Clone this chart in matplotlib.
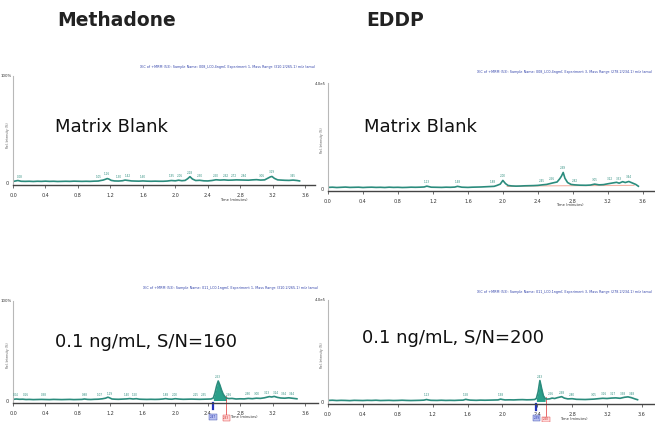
import numpy as np
import matplotlib.pyplot as plt

# chromatogram traces, time in minutes, intensity in % of full scale
mb_t = [0.02, 0.06, 0.10, 0.15, 0.20, 0.25, 0.30, 0.35, 0.40, 0.45, 0.50, 0.55, 0.60, 0.65, 0.70, 0.75,
        0.80, 0.85, 0.90, 0.95, 1.00, 1.05, 1.08, 1.11, 1.14, 1.16, 1.18, 1.21, 1.25, 1.30, 1.35, 1.38,
        1.42, 1.46, 1.50, 1.55, 1.60, 1.65, 1.70, 1.75, 1.80, 1.85, 1.90, 1.95, 2.00, 2.04, 2.08, 2.12,
        2.15, 2.18, 2.21, 2.25, 2.30, 2.35, 2.40, 2.45, 2.50, 2.55, 2.60, 2.65, 2.70, 2.75, 2.80, 2.85,
        2.90, 2.95, 3.00, 3.05, 3.10, 3.14, 3.17, 3.19, 3.22, 3.26, 3.30, 3.35, 3.40, 3.45, 3.50, 3.53]
mb_y = [1.6, 2.2, 1.5, 1.4, 1.5, 1.3, 1.5, 1.4, 1.6, 1.4, 1.5, 1.3, 1.4, 1.5, 1.4, 1.6,
        1.5, 1.4, 1.5, 1.4, 1.6, 1.7, 2.2, 2.6, 3.4, 4.0, 3.6, 2.3, 1.8, 1.7, 2.0, 2.6,
        2.2, 1.8, 1.7, 1.6, 1.8, 1.6, 1.5, 1.6, 1.5, 1.5, 1.7, 2.2, 1.9, 2.5, 2.0, 2.3,
        3.8, 5.8, 3.6, 2.2, 2.4, 1.9, 1.8, 2.2, 2.9, 2.6, 2.8, 2.5, 2.6, 2.8, 2.7, 2.6,
        2.5, 2.8, 3.0, 2.6, 2.8, 4.4, 5.6, 6.0, 4.2, 2.8, 2.6, 2.4, 2.3, 2.6, 2.2, 1.8]
mb_labels = [0.08, 1.05, 1.16, 1.30, 1.42, 1.60, 1.95, 2.06, 2.18, 2.30, 2.50, 2.62, 2.72, 2.84,
             3.06, 3.19, 3.45]

eb_t = [0.00, 0.05, 0.10, 0.15, 0.20, 0.25, 0.30, 0.35, 0.40, 0.45, 0.50, 0.55, 0.60, 0.65, 0.70, 0.75,
        0.80, 0.85, 0.90, 0.95, 1.00, 1.05, 1.10, 1.13, 1.15, 1.18, 1.25, 1.30, 1.35, 1.40, 1.45, 1.48,
        1.50, 1.53, 1.60, 1.65, 1.70, 1.75, 1.80, 1.85, 1.90, 1.93, 1.97, 2.00, 2.03, 2.06, 2.10, 2.15,
        2.20, 2.25, 2.30, 2.35, 2.40, 2.45, 2.50, 2.54, 2.58, 2.62, 2.65, 2.67, 2.69, 2.71, 2.74, 2.78,
        2.82, 2.88, 2.95, 3.00, 3.05, 3.10, 3.15, 3.20, 3.25, 3.30, 3.33, 3.37, 3.40, 3.44, 3.48, 3.52, 3.55]
eb_y = [1.4, 1.6, 1.3, 1.5, 1.7, 1.4, 1.5, 1.6, 1.3, 1.5, 1.6, 1.4, 1.5, 1.3, 1.6, 1.4,
        1.5, 1.3, 1.4, 1.6, 1.5, 1.6, 1.8, 2.6, 2.2, 1.6, 1.5, 1.4, 1.6, 1.5, 1.7, 2.4,
        2.1, 1.6, 1.4, 1.6, 1.7, 1.8, 2.0, 2.2, 2.4, 3.2, 4.5, 8.0, 5.0, 3.2, 2.8, 2.6,
        2.7, 2.9, 3.0, 3.1, 3.3, 3.8, 4.2, 5.0, 5.8, 6.5, 9.5, 12.0, 15.5, 10.0, 6.0, 4.2,
        3.8, 3.5, 3.4, 3.6, 4.5, 3.8, 4.0, 4.8, 5.5, 6.2, 5.4, 6.8, 6.0, 7.0, 5.6, 4.2, 2.5]
eb_labels = [1.13, 1.48, 1.88, 2.00, 2.45, 2.56, 2.69, 2.82, 3.05, 3.22, 3.33, 3.44]
eb_bg_t = [2.05, 2.40, 2.70, 3.00, 3.50]
eb_bg_y = [2.3, 2.8, 3.0, 3.1, 3.3]

m1_t = [0.00, 0.04, 0.08, 0.12, 0.16, 0.20, 0.25, 0.30, 0.35, 0.40, 0.45, 0.50, 0.55, 0.60, 0.65, 0.70,
        0.75, 0.80, 0.85, 0.88, 0.92, 0.96, 1.00, 1.05, 1.10, 1.14, 1.17, 1.19, 1.22, 1.26, 1.30, 1.35,
        1.40, 1.44, 1.48, 1.52, 1.56, 1.60, 1.65, 1.70, 1.75, 1.80, 1.85, 1.88, 1.92, 1.96, 2.00, 2.05,
        2.10, 2.15, 2.20, 2.25, 2.30, 2.35, 2.40, 2.44, 2.47, 2.49, 2.51, 2.53, 2.55, 2.57, 2.59, 2.61,
        2.63, 2.66, 2.70, 2.75, 2.80, 2.85, 2.90, 2.95, 3.00, 3.05, 3.10, 3.13, 3.16, 3.19, 3.22, 3.26,
        3.30, 3.35, 3.40, 3.45, 3.50]
m1_y = [1.6, 2.0, 1.7, 1.8, 1.5, 1.6, 1.4, 1.5, 1.6, 1.5, 1.4, 1.6, 1.5, 1.4, 1.5, 1.6,
        1.4, 1.5, 1.6, 2.0, 1.6, 1.5, 1.7, 1.8, 2.2, 2.8, 3.8, 3.2, 2.0, 1.8, 1.7, 1.9,
        2.1, 2.4, 2.0, 2.3, 1.8, 1.7, 1.6, 1.7, 1.6, 1.7, 2.0, 2.4, 1.9, 1.8, 2.3, 1.9,
        1.7, 1.8, 1.9, 1.8, 1.7, 1.8, 1.9, 2.0, 3.0, 8.0, 15.0, 20.0, 16.0, 11.0, 7.0, 4.5,
        3.0, 2.4, 2.6, 2.0, 2.2, 2.1, 2.6, 2.3, 2.8, 2.6, 3.2, 3.8, 4.4, 4.0, 4.6, 3.6,
        3.0, 2.8, 3.2, 2.7, 2.2]
m1_labels = [0.04, 0.16, 0.38, 0.88, 1.07, 1.19, 1.40, 1.50, 1.88, 2.00, 2.25, 2.35, 2.53, 2.66,
             2.90, 3.00, 3.13, 3.24, 3.34, 3.44]
m1_peak = [2.47, 2.63]

e1_t = [0.00, 0.05, 0.10, 0.15, 0.20, 0.25, 0.30, 0.35, 0.40, 0.45, 0.50, 0.55, 0.60, 0.65, 0.70, 0.75,
        0.80, 0.85, 0.90, 0.95, 1.00, 1.05, 1.10, 1.13, 1.15, 1.18, 1.25, 1.30, 1.35, 1.40, 1.45, 1.50,
        1.55, 1.58, 1.60, 1.63, 1.70, 1.75, 1.80, 1.85, 1.90, 1.95, 1.98, 2.00, 2.03, 2.08, 2.13, 2.18,
        2.23, 2.28, 2.33, 2.37, 2.39, 2.41, 2.43, 2.45, 2.47, 2.49, 2.51, 2.54, 2.57, 2.60, 2.63, 2.66,
        2.68, 2.71, 2.75, 2.80, 2.85, 2.90, 2.95, 3.00, 3.05, 3.10, 3.15, 3.20, 3.25, 3.30, 3.35, 3.40,
        3.44, 3.48, 3.52, 3.55]
e1_y = [1.5, 1.7, 1.4, 1.6, 1.5, 1.3, 1.6, 1.5, 1.4, 1.6, 1.5, 1.7, 1.4, 1.5, 1.6, 1.4,
        1.5, 1.7, 1.5, 1.4, 1.5, 1.6, 1.8, 2.4, 2.0, 1.6, 1.5, 1.7, 1.5, 1.6, 1.5, 1.7,
        1.8, 2.6, 2.2, 1.8, 1.6, 1.8, 1.7, 1.8, 1.9, 2.0, 2.8, 2.4, 2.0, 2.1, 2.0, 2.2,
        2.3, 2.1, 2.2, 2.4, 3.5, 10.0, 21.0, 13.0, 6.0, 3.5, 2.8, 3.0, 3.8, 3.4, 4.2, 4.8,
        5.2, 3.8, 3.0, 3.2, 2.6, 2.5, 2.4, 2.6, 2.8, 3.2, 3.6, 3.4, 3.8, 4.0, 3.6, 4.6,
        5.0, 4.2, 3.0, 2.2]
e1_labels = [1.13, 1.58, 1.98, 2.43, 2.56, 2.68, 2.80, 3.05, 3.16, 3.27, 3.38, 3.48]
e1_peak = [2.39, 2.50]

ticks = [0.0, 0.4, 0.8, 1.2, 1.6, 2.0, 2.4, 2.8, 3.2, 3.6]
teal = '#2b8c7d'
W, H = 655, 422

fig = plt.figure(figsize=(6.55, 4.22), dpi=100)


def panel(left, right, top, bottom, xmax):
    ax = fig.add_axes([left / W, 1 - bottom / H, (right - left) / W, (bottom - top) / H])
    ax.set_xlim(0, xmax)
    ax.set_ylim(-2, 100)
    for s in ['top', 'right']:
        ax.spines[s].set_visible(False)
    ax.spines['left'].set_color('#b8b8b8')
    ax.spines['left'].set_linewidth(0.8)
    ax.spines['bottom'].set_color('#444444')
    ax.spines['bottom'].set_linewidth(1.0)
    ax.set_xticks(ticks)
    ax.set_xticklabels([f'{v:.1f}' for v in ticks])
    ax.tick_params(axis='x', labelsize=3.5, length=2.5, width=0.5, pad=3, colors='#333333')
    ax.set_yticks([0])
    ax.set_yticklabels(['0'])
    ax.tick_params(axis='y', labelsize=3.5, length=0, pad=3, colors='#333333')
    ax.patch.set_alpha(0)
    return ax


def trace(ax, t, y, labels):
    ax.plot(t, y, color=teal, lw=1.2)
    for lt in labels:
        ly = np.interp(lt, t, y) + 2.0
        ax.text(lt, ly, f'{lt:.2f}', fontsize=2.0, color=teal, ha='center', va='bottom')


def peak_marks(ax, t, y, peak):
    t = np.array(t)
    y = np.array(y)
    m = (t >= peak[0]) & (t <= peak[1])
    ax.fill_between(t[m], 0.5, y[m], color='#2aa08a', lw=0)
    ax.plot([peak[0], peak[0]], [-2, -8], color='#2233bb', lw=1.6, clip_on=False)
    ax.text(peak[0], -14, f'{peak[0]:.2f}', fontsize=2.0, color='#2233aa', ha='center', va='top',
            bbox=dict(facecolor='#b8c0f0', edgecolor='#3344aa', lw=0.3, pad=0.6))
    ax.plot([peak[1], peak[1]], [5, -14], color='#e03030', lw=0.5, clip_on=False)
    ax.text(peak[1], -15, f'{peak[1]:.2f}', fontsize=2.0, color='#cc2222', ha='center', va='top',
            bbox=dict(facecolor='#ffd8d8', edgecolor='#dd3333', lw=0.3, pad=0.5))


# Methadone matrix blank
ax1 = panel(13, 315, 76, 185, 3.72)
trace(ax1, mb_t, mb_y, mb_labels)
# EDDP matrix blank
ax2 = panel(328, 655, 83, 191, 3.74)
ax2.plot(eb_bg_t, eb_bg_y, color='#f0a090', lw=0.8, alpha=0.8)
trace(ax2, eb_t, eb_y, eb_labels)
# Methadone 0.1 ng/mL
ax3 = panel(13, 318, 301, 403, 3.76)
peak_marks(ax3, m1_t, m1_y, m1_peak)
trace(ax3, m1_t, m1_y, m1_labels)
# EDDP 0.1 ng/mL
ax4 = panel(328, 655, 300, 404, 3.75)
peak_marks(ax4, e1_t, e1_y, e1_peak)
trace(ax4, e1_t, e1_y, e1_labels)

# small instrument texts
hdr = [(315, 67, 'XIC of +MRM (53): Sample Name: 008_LC0.4ngml; Experiment 1, Mass Range (310.2/265.1) m/z (amu)'),
       (652, 72, 'XIC of +MRM (53): Sample Name: 008_LC0.4ngml; Experiment 3, Mass Range (278.2/234.1) m/z (amu)'),
       (318, 288, 'XIC of +MRM (53): Sample Name: 011_LC0.1ngml; Experiment 1, Mass Range (310.2/265.1) m/z (amu)'),
       (652, 292, 'XIC of +MRM (53): Sample Name: 011_LC0.1ngml; Experiment 3, Mass Range (278.2/234.1) m/z (amu)')]
for x, y, s in hdr:
    fig.text(x / W, 1 - y / H, s, fontsize=2.4, color='#3344aa', ha='right', va='center')

for x, y, s in [(12, 76, '100%'), (326, 84, '4.0e5'), (12, 301, '100%'), (326, 300, '4.0e5')]:
    fig.text(x / W, 1 - y / H, s, fontsize=2.8, color='#333333', ha='right', va='center')

for x, y in [(8, 135), (322, 140), (8, 355), (322, 355)]:
    fig.text(x / W, 1 - y / H, 'Rel. Intensity (%)', fontsize=2.2, color='#555555', rotation=90,
             ha='center', va='center')

for x, y in [(234, 200), (570, 205), (244, 417), (574, 419)]:
    fig.text(x / W, 1 - y / H, 'Time (minutes)', fontsize=2.6, color='#333333', ha='center', va='center')

# headings and annotations
fig.text(57 / W, 1 - 20 / H, 'Methadone', fontsize=13.5, fontweight='bold', color='#222222', va='center')
fig.text(366 / W, 1 - 20 / H, 'EDDP', fontsize=13.5, fontweight='bold', color='#222222', va='center')
fig.text(55 / W, 1 - 127 / H, 'Matrix Blank', fontsize=13, color='#111111', va='center')
fig.text(364 / W, 1 - 127 / H, 'Matrix Blank', fontsize=13, color='#111111', va='center')
fig.text(55 / W, 1 - 342 / H, '0.1 ng/mL, S/N=160', fontsize=13, color='#111111', va='center')
fig.text(362 / W, 1 - 338 / H, '0.1 ng/mL, S/N=200', fontsize=13, color='#111111', va='center')

fig.savefig('out.png', dpi=100)
